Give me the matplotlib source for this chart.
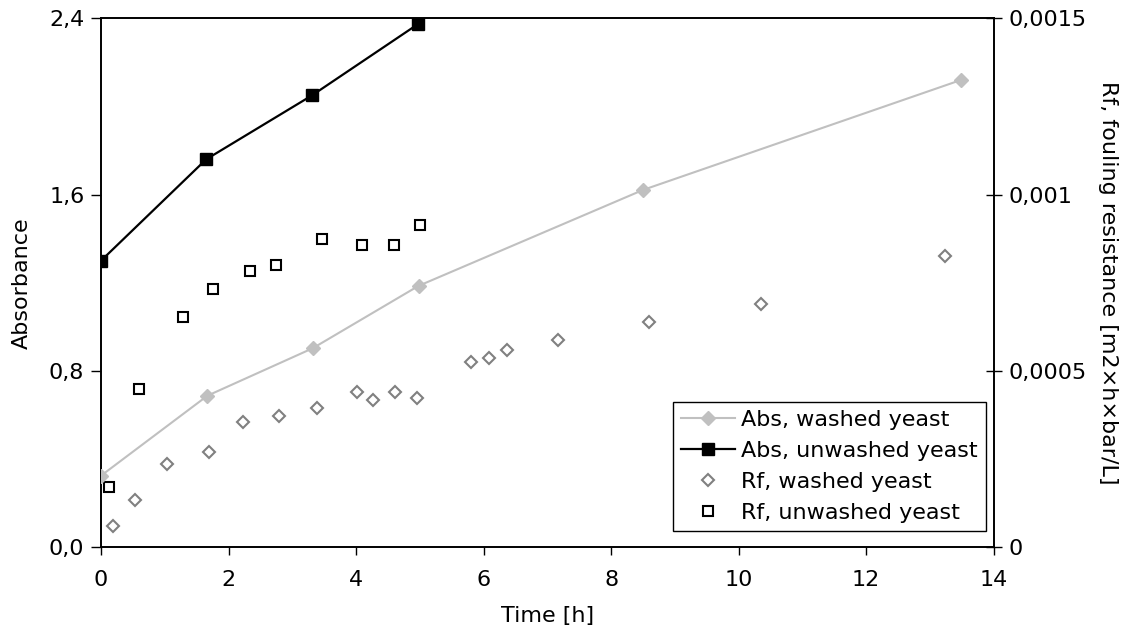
"""
Absorbance and fouling resistance vs. time for washed / unwashed yeast.
"""

import matplotlib
matplotlib.use("Agg")
import matplotlib.pyplot as plt

# Absorbance (left axis)
time_abs_washed = [0.0, 1.67, 3.32, 4.98, 8.50, 13.49]
abs_washed = [0.325, 0.688, 0.903, 1.186, 1.621, 2.12]

time_abs_unwashed = [0.0, 1.65, 3.31, 4.97]
abs_unwashed = [1.30, 1.76, 2.05, 2.373]

# Fouling resistance (right axis)
time_rf_washed = [0.19, 0.54, 1.03, 1.70, 2.23, 2.79, 3.39, 4.02, 4.26, 4.61, 4.95,
                  5.81, 6.09, 6.37, 7.16, 8.60, 10.35, 13.24]
rf_washed = [0.000061, 0.000134, 0.000237, 0.000270, 0.000355, 0.000372, 0.000396,
             0.000440, 0.000419, 0.000440, 0.000423,
             0.000525, 0.000536, 0.000560, 0.000588, 0.000639, 0.000690, 0.000826]

time_rf_unwashed = [0.12, 0.59, 1.28, 1.75, 2.33, 2.75, 3.47, 4.09, 4.59, 5.00]
rf_unwashed = [0.000171, 0.000450, 0.000653, 0.000733, 0.000783, 0.000800,
               0.000874, 0.000857, 0.000857, 0.000914]

# Ticks (comma decimal separator as in the original)
x_ticks = [0, 2, 4, 6, 8, 10, 12, 14]
abs_ticks = [0.0, 0.8, 1.6, 2.4]
abs_tick_labels = ["0,0", "0,8", "1,6", "2,4"]
rf_ticks = [0, 0.0005, 0.001, 0.0015]
rf_tick_labels = ["0", "0,0005", "0,001", "0,0015"]

plt.rcParams["font.family"] = "DejaVu Sans"
plt.rcParams["font.size"] = 16

fig = plt.figure(figsize=(11.26, 6.27), dpi=100)
ax = fig.add_axes([0.0897, 0.127, 0.7928, 0.844])
ax2 = ax.twinx()

# Absorbance series
h1, = ax.plot(time_abs_washed, abs_washed, color="#c0c0c0", lw=1.5,
              marker="D", markersize=7, markerfacecolor="#c0c0c0",
              markeredgecolor="#c0c0c0", label="Abs, washed yeast", zorder=3)
h2, = ax.plot(time_abs_unwashed, abs_unwashed, color="black", lw=1.6,
              marker="s", markersize=8, markerfacecolor="black",
              markeredgecolor="black", label="Abs, unwashed yeast", zorder=4)

# Fouling resistance series
h3, = ax2.plot(time_rf_washed, rf_washed, linestyle="none", marker="D",
               markersize=6.5, markerfacecolor="white", markeredgecolor="#808080",
               markeredgewidth=1.5, label="Rf, washed yeast")
h4, = ax2.plot(time_rf_unwashed, rf_unwashed, linestyle="none", marker="s",
               markersize=7, markerfacecolor="white", markeredgecolor="black",
               markeredgewidth=1.5, label="Rf, unwashed yeast")

ax.set_xlim(0, 14)
ax.set_ylim(0, 2.4)
ax2.set_ylim(0, 0.0015)

ax.set_xticks(x_ticks)
ax.set_xticklabels([str(t) for t in x_ticks])
ax.set_yticks(abs_ticks)
ax.set_yticklabels(abs_tick_labels)
ax2.set_yticks(rf_ticks)
ax2.set_yticklabels(rf_tick_labels)

ax.tick_params(axis="x", direction="out", length=6, width=1, pad=10)
ax.tick_params(axis="y", direction="out", length=7, width=1, pad=5)
ax2.tick_params(axis="y", direction="inout", length=12, width=1, pad=5)

for a in (ax, ax2):
    for sp in a.spines.values():
        sp.set_linewidth(1.2)
        sp.set_color("black")

ax.set_xlabel("Time [h]", labelpad=12)
ax.set_ylabel("Absorbance", labelpad=12)
ax2.set_ylabel("Rf, fouling resistance [m2\u00d7h\u00d7bar/L]", rotation=270,
               labelpad=22)

# legend sits in the lower right corner, above the Rf points
leg = ax.legend(handles=[h1, h2, h3, h4], loc="lower right",
                bbox_to_anchor=(0.991, 0.031), borderaxespad=0,
                fancybox=False, framealpha=1, edgecolor="black",
                handlelength=2.4, handletextpad=0.3, labelspacing=0.5,
                borderpad=0.35, fontsize=16)
leg.get_frame().set_linewidth(1)
leg.set_zorder(10)
ax.set_zorder(ax2.get_zorder() + 1)
ax.patch.set_visible(False)

fig.savefig("out.png", dpi=100)
